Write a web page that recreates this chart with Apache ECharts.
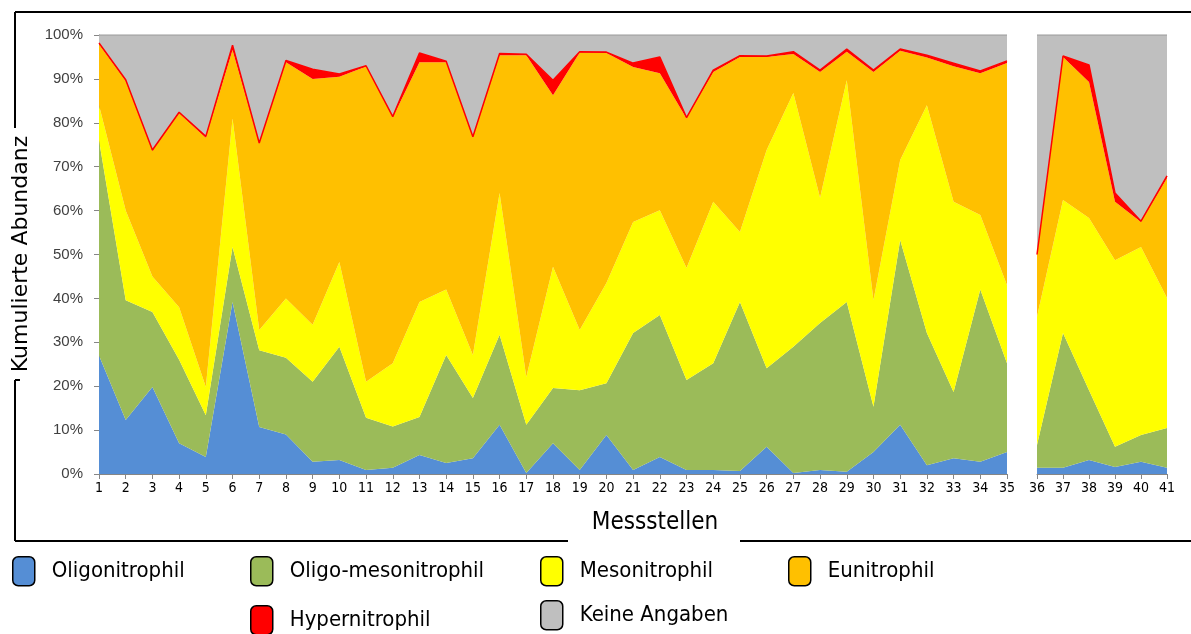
<!DOCTYPE html>
<html>
<head>
<meta charset="utf-8">
<script src="https://cdn.jsdelivr.net/npm/echarts@6/dist/echarts.min.js"></script>
<style>
  html, body { margin: 0; padding: 0; background: #fff; }
  #chart { width: 1191px; height: 634px; }
</style>
</head>
<body>
<div id="chart"></div>
<script>
// Messstellen 1..41 (panel 1: 1-35, panel 2: 36-41)
const stellen = ['1','2','3','4','5','6','7','8','9','10','11','12','13','14','15','16','17','18','19','20',
  '21','22','23','24','25','26','27','28','29','30','31','32','33','34','35','36','37','38','39','40','41']
const yTicks = [0, 10, 20, 30, 40, 50, 60, 70, 80, 90, 100]

// Anteile in % je Messstelle
const oligo = [27,12.3,19.8,7,3.9,39.2,10.7,9,2.8,3.2,0.9,1.4,4.3,2.5,3.6,11.2,0.2,7,0.9,8.9,0.9,3.9,0.9,0.9,0.7,6.2,0.2,0.9,0.5,5,11.2,2,3.6,2.8,5,
  1.4,1.4,3.2,1.6,2.8,1.4]
const oligoMeso = [49,27.3,17.1,19,9.5,12.5,17.5,17.5,18.2,25.8,11.9,9.4,8.7,24.6,13.7,20.5,11,12.6,18.2,11.8,31.2,32.3,20.5,24.3,38.5,17.9,28.8,33.5,38.7,10.3,42.1,30.1,15.1,39.2,20.2,
  5.2,30.7,15.9,4.6,6.1,9.1]
const meso = [8,20.4,8.1,12,6.4,29.3,4.6,13.5,13,19.3,8.2,14.4,26.2,14.9,9.8,32.3,10.9,27.6,13.7,22.8,25.3,23.9,25.5,36.8,15.9,49.7,57.8,28.5,50.5,24.3,18.2,51.9,43.3,17,17.8,
  29.2,30.3,39.2,42.5,42.8,29.6]
const eu = [13.9,29.5,28.6,44.2,56.8,15.6,42.4,53.8,56,42.2,71.8,56,54.6,51.8,49.5,31.4,73.3,39.1,63.2,52.4,35.3,31.2,34.1,29.6,39.9,21.2,8.9,28.7,6.5,52,24.9,10.9,30.9,32.3,50.6,
  14.2,32.6,31,13.3,5.7,27.3]
const hyper = [0.3,0.3,0.2,0.2,0.3,1.1,0.2,0.4,2.2,0.6,0.2,0.2,2.1,0.2,0.2,0.4,0.2,3.4,0.2,0.2,0.9,3.7,0.2,0.4,0.3,0.2,0.5,0.4,0.6,0.4,0.4,0.5,0.7,0.5,0.5,
  0,0.2,3.9,2,0.2,0.5]
const keine = [1.8,10.2,26.2,17.6,23.1,2.3,24.6,5.8,7.8,8.9,7,18.6,4.1,6,23.2,4.2,4.4,10.3,3.8,3.9,6.4,5,18.8,8,4.7,4.8,3.8,8,3.2,8,3.2,4.6,6.4,8.2,5.9,
  50,4.8,6.8,36,42.4,32.1]

const gruppen = [
  { name: 'Oligonitrophil', data: oligo, color: '#558ED5' },
  { name: 'Oligo-mesonitrophil', data: oligoMeso, color: '#9BBB59' },
  { name: 'Mesonitrophil', data: meso, color: '#FFFF00' },
  { name: 'Eunitrophil', data: eu, color: '#FFC000' },
  { name: 'Hypernitrophil', data: hyper, color: '#FF0000' },
  { name: 'Keine Angaben', data: keine, color: '#BFBFBF' }
]
const split = 35

const axisFont = 'Liberation Sans'
const condFont = 'DejaVu Sans Condensed, DejaVu Sans'

let series = []
;[0, 1].forEach(panel => {
  gruppen.forEach(g => {
    let lineStyle = { width: 0 }
    if (g.name === 'Hypernitrophil') lineStyle = { width: 1.5, color: '#FF0000' }
    if (g.name === 'Keine Angaben') lineStyle = { width: 1.5, color: '#A6A6A6' }
    series.push({
      name: g.name,
      type: 'line',
      stack: 'p' + panel,
      xAxisIndex: panel,
      yAxisIndex: panel,
      symbol: 'none',
      silent: true,
      color: g.color,
      lineStyle: lineStyle,
      areaStyle: { color: g.color, opacity: 1 },
      data: panel === 0 ? g.data.slice(0, split) : g.data.slice(split)
    })
  })
})

// one legend block per item, placed like the original
const legendPos = [
  { left: 12, top: 556 },
  { left: 250, top: 556 },
  { left: 540, top: 556 },
  { left: 788, top: 556 },
  { left: 250, top: 605 },
  { left: 540, top: 600 }
]
const legend = gruppen.map((g, i) => ({
  data: [g.name],
  left: legendPos[i].left,
  top: legendPos[i].top,
  padding: 0,
  icon: 'roundRect',
  itemWidth: 22,
  itemHeight: 29,
  selectedMode: false,
  itemStyle: { borderColor: '#000', borderWidth: 1.5 },
  textStyle: { fontFamily: condFont, fontSize: 22, color: '#000', padding: [0, 0, 0, 12] }
}))

const xAxisBase = {
  type: 'category',
  boundaryGap: false,
  axisLine: { lineStyle: { color: '#868686', width: 1 } },
  axisTick: { show: true, length: 5, lineStyle: { color: '#868686' } },
  axisLabel: { interval: 0, fontFamily: condFont, fontSize: 14, color: '#000', margin: 7 }
}
const yAxisBase = {
  type: 'value',
  min: yTicks[0],
  max: yTicks[yTicks.length - 1],
  interval: 10,
  splitLine: { show: false }
}

const myChart = echarts.init(document.getElementById('chart'))
const option = {
  animation: false,
  backgroundColor: '#fff',
  grid: [
    { left: 99, top: 35, width: 908, height: 439 },
    { left: 1037, top: 35, width: 130, height: 439 }
  ],
  xAxis: [
    Object.assign({}, xAxisBase, { gridIndex: 0, data: stellen.slice(0, split) }),
    Object.assign({}, xAxisBase, { gridIndex: 1, data: stellen.slice(split) })
  ],
  yAxis: [
    Object.assign({}, yAxisBase, {
      gridIndex: 0,
      axisLine: { show: true, lineStyle: { color: '#868686' } },
      axisTick: { show: true, length: 5, lineStyle: { color: '#868686' } },
      axisLabel: { formatter: '{value}%', fontFamily: axisFont, fontSize: 15, color: '#404040', margin: 16 }
    }),
    Object.assign({}, yAxisBase, {
      gridIndex: 1,
      axisLine: { show: false },
      axisTick: { show: false },
      axisLabel: { show: false }
    })
  ],
  legend: legend,
  series: series,
  graphic: [
    // outer frame, broken around the axis titles
    { type: 'line', shape: { x1: 15, y1: 12, x2: 1191, y2: 12 }, style: { stroke: '#000', lineWidth: 2 } },
    { type: 'line', shape: { x1: 15, y1: 12, x2: 15, y2: 128 }, style: { stroke: '#000', lineWidth: 2 } },
    { type: 'line', shape: { x1: 15, y1: 380, x2: 15, y2: 541 }, style: { stroke: '#000', lineWidth: 2 } },
    { type: 'line', shape: { x1: 15, y1: 380, x2: 20, y2: 380 }, style: { stroke: '#000', lineWidth: 2 } },
    { type: 'line', shape: { x1: 15, y1: 541, x2: 568, y2: 541 }, style: { stroke: '#000', lineWidth: 2 } },
    { type: 'line', shape: { x1: 740, y1: 541, x2: 1191, y2: 541 }, style: { stroke: '#000', lineWidth: 2 } },
    {
      type: 'text', x: 21, y: 254, rotation: Math.PI / 2,
      style: { text: 'Kumulierte Abundanz', fontFamily: 'DejaVu Sans', fontSize: 22, fill: '#000', align: 'center', verticalAlign: 'middle' }
    },
    {
      type: 'text', x: 655, y: 523,
      style: { text: 'Messstellen', fontFamily: condFont, fontSize: 24, fill: '#000', align: 'center', verticalAlign: 'middle' }
    }
  ]
}
myChart.setOption(option)
window.addEventListener('resize', function () {
  myChart.resize()
})
</script>
</body>
</html>
